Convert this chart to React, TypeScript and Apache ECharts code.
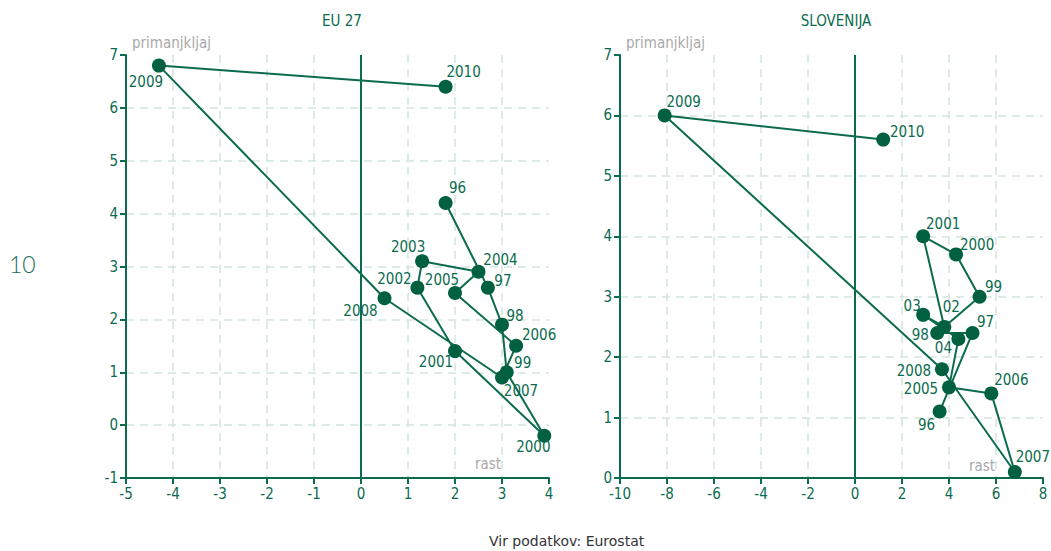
import React, { useEffect, useRef } from "react";
import * as echarts from "echarts";

const euYears = ["96", "97", "98", "99", "2000", "2001", "2002", "2003", "2004", "2005", "2006", "2007", "2008", "2009", "2010"];
const euGrowth = [1.8, 2.7, 3.0, 3.1, 3.9, 2.0, 1.2, 1.3, 2.5, 2.0, 3.3, 3.0, 0.5, -4.3, 1.8];
const euDeficit = [4.2, 2.6, 1.9, 1.0, -0.2, 1.4, 2.6, 3.1, 2.9, 2.5, 1.5, 0.9, 2.4, 6.8, 6.4];

const siYears = ["96", "97", "98", "99", "2000", "2001", "02", "03", "04", "2005", "2006", "2007", "2008", "2009", "2010"];
const siGrowth = [3.6, 5.0, 3.5, 5.3, 4.3, 2.9, 3.8, 2.9, 4.4, 4.0, 5.8, 6.8, 3.7, -8.1, 1.2];
const siDeficit = [1.1, 2.4, 2.4, 3.0, 3.7, 4.0, 2.5, 2.7, 2.3, 1.5, 1.4, 0.1, 1.8, 6.0, 5.6];

const panelTitles = ["EU 27", "SLOVENIJA"];
const yAxisName = "primanjkljaj";
const xAxisName = "rast";
const sourceText = "Vir podatkov: Eurostat";

// label placement (styling), keyed by index
const euLabelOffsets: number[][] = [
  [12, -15], [15, -7], [13, -9], [16, -9], [-11, 11], [-19, 11], [-23, -9], [-14, -14],
  [22, -12], [-13, -13], [23, -11], [19, 13], [-24, 13], [-13, 16], [18, -15],
];
const siLabelOffsets: number[][] = [
  [-13, 13], [13, -11], [-17, 2], [14, -10], [21, -9], [20, -12], [7, -20], [-11, -9],
  [-15, 9], [-28, 2], [20, -13], [18, -15], [-28, 2], [19, -13], [24, -8],
];

const GREEN = "#0b6b4f";
const DOT = "#00603f";
const GRID = "#d3e4de";
const GRAY = "#a9a9a9";
const FONT = "'Liberation Sans Narrow', 'DejaVu Sans Condensed', 'Roboto', sans-serif";

function buildData(years: string[], xs: number[], ys: number[], offs: number[][]) {
  return xs.map((x, i) => ({
    value: [x, ys[i]],
    name: years[i],
    label: { position: "inside", offset: offs[i] },
  }));
}

export default function App() {
  const ref = useRef<HTMLDivElement>(null);
  useEffect(() => {
    document.body.style.margin = "0";
    if (!ref.current) return;
    const chart = echarts.init(ref.current, null, { renderer: "svg" });
    const axisCommon = {
      axisLine: { show: true, onZero: false, lineStyle: { color: GREEN, width: 2 } },
      axisTick: { show: true, length: 6, lineStyle: { color: GREEN, width: 2 } },
      axisLabel: { color: GREEN, fontSize: 15, fontFamily: FONT },
      splitLine: { show: true, showMaxLine: false, lineStyle: { color: GRID, type: [8, 6], width: 1.5 } },
    };
    const seriesCommon = (idx: number, data: any[]) => ({
      type: "line",
      xAxisIndex: idx,
      yAxisIndex: idx,
      data,
      symbol: "circle",
      symbolSize: 14,
      itemStyle: { color: DOT },
      lineStyle: { color: GREEN, width: 2 },
      label: {
        show: true,
        formatter: (p: any) => p.name,
        color: GREEN,
        fontSize: 15,
        fontFamily: FONT,
      },
      markLine: {
        silent: true,
        symbol: "none",
        label: { show: false },
        lineStyle: { color: GREEN, width: 2, type: "solid" },
        data: [{ xAxis: 0 }],
      },
      z: 3,
    });
    chart.setOption({
      animation: false,
      title: [
        { text: panelTitles[0], left: 337, top: 8, textAlign: "center", textStyle: { color: GREEN, fontSize: 15, fontWeight: "normal", fontFamily: FONT } },
        { text: panelTitles[1], left: 831, top: 8, textAlign: "center", textStyle: { color: GREEN, fontSize: 15, fontWeight: "normal", fontFamily: FONT } },
      ],
      grid: [
        { left: 126, top: 55, width: 423, height: 423 },
        { left: 620, top: 55, width: 423, height: 423 },
      ],
      xAxis: [
        { ...axisCommon, type: "value", gridIndex: 0, min: -5, max: 4, interval: 1 },
        { ...axisCommon, type: "value", gridIndex: 1, min: -10, max: 8, interval: 2 },
      ],
      yAxis: [
        { ...axisCommon, type: "value", gridIndex: 0, min: -1, max: 7, interval: 1 },
        { ...axisCommon, type: "value", gridIndex: 1, min: 0, max: 7, interval: 1 },
      ],
      series: [
        seriesCommon(0, buildData(euYears, euGrowth, euDeficit, euLabelOffsets)),
        seriesCommon(1, buildData(siYears, siGrowth, siDeficit, siLabelOffsets)),
      ],
      graphic: [
        { type: "text", left: 132, top: 35, style: { text: yAxisName, fill: GRAY, fontSize: 15, fontFamily: FONT } },
        { type: "text", left: 626, top: 35, style: { text: yAxisName, fill: GRAY, fontSize: 15, fontFamily: FONT } },
        { type: "text", left: 475, top: 456, style: { text: xAxisName, fill: GRAY, fontSize: 15, fontFamily: FONT } },
        { type: "text", left: 969, top: 458, style: { text: xAxisName, fill: GRAY, fontSize: 15, fontFamily: FONT } },
        { type: "text", left: 9, top: 252, style: { text: "10", fill: "#1b6e56", fontSize: 23, fontFamily: "Lato, sans-serif", fontWeight: 300 } },
        { type: "text", left: 489, top: 534, style: { text: sourceText, fill: "#333", fontSize: 14, fontFamily: "'DejaVu Sans', sans-serif" } },
      ],
    });
    return () => chart.dispose();
  }, []);
  return <div ref={ref} style={{ width: 1051, height: 551 }} />;
}
